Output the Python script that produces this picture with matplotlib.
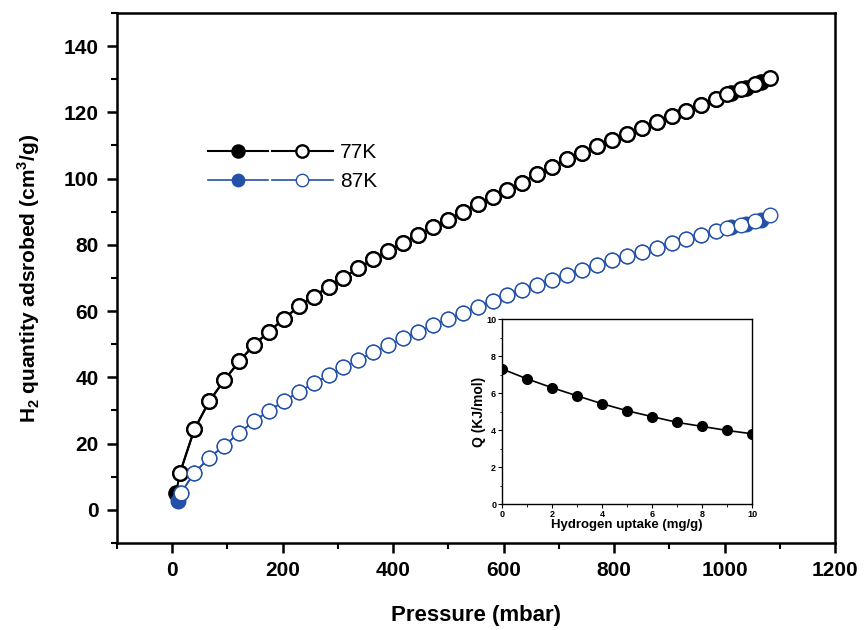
import matplotlib.pyplot as plt
from matplotlib.legend_handler import HandlerTuple
from matplotlib.ticker import MultipleLocator

plt.rcParams['font.family'] = 'Liberation Sans'
plt.rcParams['mathtext.fontset'] = 'custom'
plt.rcParams['mathtext.rm'] = 'Liberation Sans'
plt.rcParams['mathtext.bf'] = 'Liberation Sans:bold'

# 77K isotherm (mbar, cm3/g)
p77_ads = [7, 14, 40, 67, 94, 121, 148, 175, 202, 229, 256, 283, 310, 337, 364, 391, 418,
           445, 472, 499, 526, 553, 580, 607, 634, 661, 688, 715, 742, 769, 796, 823, 850,
           877, 904, 931, 958, 985, 1012, 1039, 1066]
q77_ads = [5.2, 11.2, 24.3, 32.8, 39.1, 44.8, 49.8, 53.8, 57.7, 61.4, 64.4, 67.4, 70.1, 72.9,
           75.7, 78.2, 80.6, 83.0, 85.3, 87.6, 90.0, 92.2, 94.4, 96.6, 98.8, 101.4, 103.6,
           105.8, 107.8, 109.8, 111.6, 113.4, 115.2, 117.0, 118.8, 120.5, 122.2, 124.0,
           125.8, 127.5, 129.2]
p77_des = [14, 40, 67, 94, 121, 148, 175, 202, 229, 256, 283, 310, 337, 364, 391, 418, 445,
           472, 499, 526, 553, 580, 607, 634, 661, 688, 715, 742, 769, 796, 823, 850, 877,
           904, 931, 958, 985, 1005, 1030, 1055, 1083]
q77_des = [11.2, 24.3, 32.8, 39.1, 44.8, 49.8, 53.8, 57.7, 61.4, 64.4, 67.4, 70.1, 72.9, 75.7,
           78.2, 80.6, 83.0, 85.3, 87.6, 90.0, 92.2, 94.4, 96.6, 98.8, 101.4, 103.6, 105.8,
           107.8, 109.8, 111.6, 113.4, 115.2, 117.0, 118.8, 120.5, 122.2, 124.0, 125.4,
           127.0, 128.6, 130.4]

# 87K isotherm
p87_ads = [10, 16, 40, 67, 94, 121, 148, 175, 202, 229, 256, 283, 310, 337, 364, 391, 418,
           445, 472, 499, 526, 553, 580, 607, 634, 661, 688, 715, 742, 769, 796, 823, 850,
           877, 904, 931, 958, 985, 1012, 1039, 1066]
q87_ads = [2.7, 5.2, 11.2, 15.7, 19.4, 23.2, 26.8, 29.9, 32.8, 35.6, 38.2, 40.6, 43.0, 45.3,
           47.6, 49.7, 51.8, 53.8, 55.7, 57.6, 59.5, 61.3, 63.1, 64.9, 66.5, 68.0, 69.5,
           71.0, 72.5, 73.9, 75.3, 76.6, 77.9, 79.2, 80.5, 81.7, 82.9, 84.1, 85.3, 86.4, 87.6]
p87_des = [16, 40, 67, 94, 121, 148, 175, 202, 229, 256, 283, 310, 337, 364, 391, 418, 445,
           472, 499, 526, 553, 580, 607, 634, 661, 688, 715, 742, 769, 796, 823, 850, 877,
           904, 931, 958, 985, 1005, 1030, 1055, 1083]
q87_des = [5.2, 11.2, 15.7, 19.4, 23.2, 26.8, 29.9, 32.8, 35.6, 38.2, 40.6, 43.0, 45.3, 47.6,
           49.7, 51.8, 53.8, 55.7, 57.6, 59.5, 61.3, 63.1, 64.9, 66.5, 68.0, 69.5, 71.0,
           72.5, 73.9, 75.3, 76.6, 77.9, 79.2, 80.5, 81.7, 82.9, 84.1, 85.0, 86.1, 87.2, 88.9]

# isosteric heat of adsorption (inset)
uptake = [0, 1, 2, 3, 4, 5, 6, 7, 8, 9, 10]
q_st = [7.32, 6.78, 6.30, 5.86, 5.43, 5.05, 4.73, 4.42, 4.20, 3.98, 3.80]

blue = '#2350a8'

fig = plt.figure(figsize=(8.65, 6.3), dpi=100)
ax = fig.add_axes([0.1353, 0.1381, 0.83, 0.8413])

ms = 10.5
a77, = ax.plot(p77_ads, q77_ads, '-o', color='k', lw=1.5, ms=ms, mfc='k', mec='k', mew=1.5)
d77, = ax.plot(p77_des, q77_des, '-o', color='k', lw=1.5, ms=ms, mfc='white', mec='k', mew=1.7)
a87, = ax.plot(p87_ads, q87_ads, '-o', color=blue, lw=1.2, ms=ms, mfc=blue, mec=blue, mew=1.0)
d87, = ax.plot(p87_des, q87_des, '-o', color=blue, lw=1.2, ms=ms, mfc='white', mec=blue, mew=1.0)

ax.set_xlim(-100, 1200)
ax.set_ylim(-10, 150)
ax.xaxis.set_major_locator(MultipleLocator(200))
ax.xaxis.set_minor_locator(MultipleLocator(100))
ax.yaxis.set_major_locator(MultipleLocator(20))
ax.yaxis.set_minor_locator(MultipleLocator(10))
ax.tick_params(which='major', direction='out', length=7, width=1.8, labelsize=15, pad=6)
ax.tick_params(which='minor', direction='out', length=4, width=1.5)
for lab in ax.get_xticklabels() + ax.get_yticklabels():
    lab.set_fontweight('bold')
for s in ax.spines.values():
    s.set_linewidth(1.8)

ax.set_xlabel('Pressure (mbar)', fontsize=16, fontweight='bold', labelpad=18)
ax.set_ylabel(r'H$_\mathbf{2}$ quantity adsrobed (cm$^\mathbf{3}$/g)', fontsize=15,
              fontweight='bold', labelpad=16)

leg = ax.legend([(a77, d77), (a87, d87)], ['77K', '87K'],
                handler_map={tuple: HandlerTuple(ndivide=None, pad=0.2)},
                loc='upper left', bbox_to_anchor=(0.1, 0.79), frameon=False,
                fontsize=15, handlelength=6.0, handletextpad=0.35, labelspacing=0.5,
                numpoints=1, markerscale=0.85)

# inset: isosteric heat
ins = fig.add_axes([0.580, 0.20, 0.2897, 0.2932])
ins.plot(uptake, q_st, '-o', color='k', lw=1.2, ms=7, mfc='k', mec='k')
ins.set_xlim(0, 10)
ins.set_ylim(0, 10)
ins.xaxis.set_major_locator(MultipleLocator(2))
ins.xaxis.set_minor_locator(MultipleLocator(1))
ins.yaxis.set_major_locator(MultipleLocator(2))
ins.yaxis.set_minor_locator(MultipleLocator(1))
ins.tick_params(which='major', direction='out', length=3, width=0.8, labelsize=6.5, pad=1)
ins.tick_params(which='minor', direction='out', length=1.8, width=0.6)
for lab in ins.get_xticklabels() + ins.get_yticklabels():
    lab.set_fontweight('bold')
for s in ins.spines.values():
    s.set_linewidth(1.0)
ins.set_xlabel('Hydrogen uptake (mg/g)', fontsize=9.5, fontweight='bold', labelpad=0.5)
ins.set_ylabel('Q (KJ/mol)', fontsize=10, fontweight='bold', labelpad=0)

fig.savefig('out.png', dpi=100)
